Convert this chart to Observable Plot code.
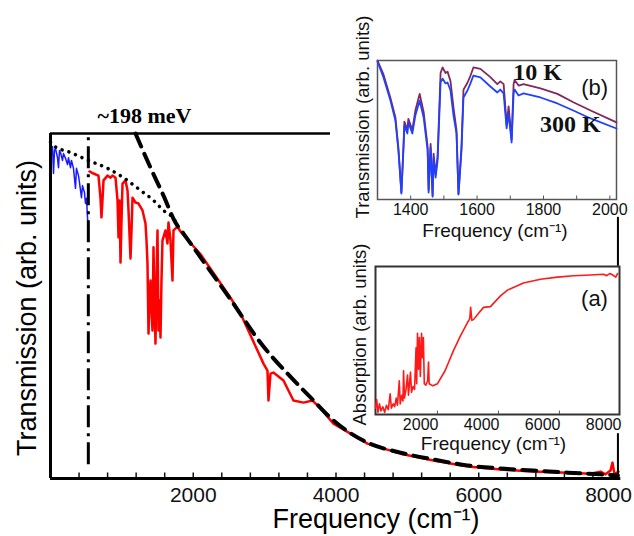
<!DOCTYPE html>
<html><head><meta charset="utf-8">
<script src="https://cdn.jsdelivr.net/npm/d3@7"></script>
<script src="https://cdn.jsdelivr.net/npm/@observablehq/plot@0.6"></script>
<style>
body{margin:0;background:#fff;}
#wrap{position:relative;width:634px;height:536px;overflow:hidden;background:#fff;}
#wrap svg{position:absolute;}
</style></head><body><div id="wrap"></div>
<script>
// ---------- main panel data: [frequency cm^-1, transmission] ----------
const mainBlue = [[28,0.962],[42,0.884],[56,0.951],[70,0.957],[98,0.930],[112,0.901],[126,0.951],[140,0.945],[168,0.922],[182,0.942],[210,0.928],[238,0.910],[252,0.930],[280,0.901],[294,0.922],[322,0.899],[350,0.841],[364,0.899],[392,0.878],[406,0.858],[434,0.814],[448,0.849],[476,0.829],[490,0.797],[504,0.812],[525,0.733]];
const mainRed = [[546,0.890],[602,0.884],[672,0.878],[700,0.814],[714,0.757],[728,0.806],[743,0.864],[799,0.878],[841,0.872],[869,0.878],[911,0.872],[939,0.806],[953,0.699],[967,0.806],[981,0.626],[995,0.748],[1009,0.855],[1051,0.864],[1079,0.835],[1093,0.777],[1121,0.638],[1135,0.719],[1149,0.814],[1191,0.800],[1233,0.797],[1289,0.777],[1331,0.739],[1345,0.690],[1359,0.623],[1373,0.420],[1387,0.516],[1401,0.574],[1415,0.487],[1429,0.429],[1443,0.670],[1457,0.516],[1471,0.391],[1485,0.574],[1499,0.719],[1513,0.429],[1527,0.516],[1541,0.409],[1555,0.574],[1569,0.690],[1611,0.719],[1639,0.681],[1653,0.742],[1681,0.690],[1695,0.632],[1709,0.574],[1723,0.719],[1779,0.730],[1821,0.716],[2102,0.650],[2522,0.524],[2662,0.478],[2900,0.371],[2984,0.333],[3040,0.313],[3054,0.226],[3082,0.304],[3124,0.307],[3264,0.284],[3404,0.226],[3545,0.220],[3671,0.226],[3783,0.203],[3965,0.159],[4441,0.101],[4904,0.072],[5366,0.052],[5842,0.035],[6305,0.026],[6767,0.020],[7243,0.017],[7565,0.014],[7706,0.020],[7776,0.012],[7846,0.023],[7874,0.046],[7902,0.012],[7958,0.020]];
const mainDashed = [[1191,1.0],[1401,0.901],[1583,0.820],[1751,0.742],[1863,0.710],[2102,0.641],[2522,0.519],[2970,0.386],[3320,0.304],[3643,0.235],[3965,0.168],[4441,0.104],[4904,0.075],[5366,0.055],[5842,0.038],[6305,0.029],[6767,0.023],[7243,0.017],[7706,0.012],[7950,0.009]];
const mainDotted = [[0,0.975],[42,0.965],[280,0.945],[532,0.922],[799,0.899],[1023,0.872],[1261,0.835],[1443,0.806],[1583,0.777],[1709,0.757],[1779,0.736]];
const cutoffFreq = [530];
const mainTickLabels = [2000, 4000, 6000];
const mainLastTick = [8000];
const mainMinorTicks = [400,800,1200,1600,2000,2400,2800,3200,3600,4000,4400,4800,5200,5600,6000,6400,6800,7200,7600];
const gapLabel = "~198 meV";

// ---------- inset (b): transmission 1300-2000 cm^-1 ----------
const insetBFreq = [1300,1318,1339,1354,1363,1372,1378,1381,1390,1393,1405,1414,1427,1439,1451,1454,1460,1466,1469,1475,1481,1490,1496,1505,1511,1520,1529,1538,1544,1553,1559,1571,1580,1589,1610,1640,1661,1670,1680,1689,1695,1704,1710,1713,1725,1740,1791,1842,1890,1942,2020];
const insetB300K = [0.993,0.878,0.712,0.568,0.353,0.043,0.353,0.532,0.475,0.554,0.475,0.604,0.712,0.590,0.353,0.050,0.374,0.020,0.302,0.158,0.280,0.842,0.870,0.835,0.842,0.784,0.604,0.475,0.036,0.353,0.734,0.784,0.835,0.892,0.878,0.813,0.770,0.791,0.763,0.511,0.619,0.410,0.763,0.791,0.748,0.763,0.734,0.691,0.640,0.583,0.511];
const insetB10K = [1.0,0.90,0.73,0.59,0.37,0.05,0.37,0.56,0.50,0.58,0.50,0.64,0.76,0.63,0.38,0.07,0.40,0.03,0.33,0.18,0.31,0.91,0.95,0.91,0.92,0.85,0.66,0.50,0.04,0.38,0.79,0.84,0.89,0.95,0.94,0.88,0.83,0.85,0.83,0.54,0.67,0.43,0.83,0.86,0.82,0.83,0.80,0.76,0.70,0.64,0.555];
const insetBTicks = [1400,1600,1800,2000];
const insetBMinor = [1400,1500,1600,1700,1800,1900,2000];

// ---------- inset (a): absorption ----------
const absorption = [[520,0.03],[560,0.09],[600,0.0],[650,0.06],[700,0.01],[760,0.04],[820,0.0],[880,0.05],[940,0.02],[1000,0.13],[1040,0.03],[1100,0.06],[1150,0.04],[1200,0.10],[1240,0.05],[1300,0.22],[1330,0.06],[1380,0.12],[1420,0.08],[1440,0.29],[1470,0.10],[1520,0.16],[1570,0.26],[1600,0.12],[1668,0.28],[1700,0.14],[1750,0.18],[1800,0.16],[1850,0.45],[1870,0.20],[1897,0.55],[1930,0.30],[1960,0.52],[1990,0.25],[2030,0.55],[2061,0.38],[2090,0.52],[2120,0.20],[2170,0.19],[2230,0.22],[2258,0.35],[2280,0.20],[2400,0.185],[2553,0.20],[2800,0.29],[3077,0.43],[3300,0.53],[3536,0.625],[3610,0.65],[3640,0.73],[3680,0.64],[3733,0.645],[3900,0.69],[4061,0.73],[4290,0.735],[4618,0.81],[4848,0.85],[5372,0.90],[5930,0.925],[6487,0.94],[7012,0.95],[7570,0.955],[8000,0.96],[8100,0.95],[8200,0.965],[8300,0.955],[8400,0.94],[8454,0.965]];
const insetATicks = [2000,4000,6000,8000];
const insetAMinor = [2550,4550,6550];

const SANS = '"Liberation Sans", Arial, Helvetica, sans-serif';
const SERIF = '"Liberation Serif", "Times New Roman", serif';
const fx = d => d[0], fy = d => d[1];
const wrap = document.getElementById("wrap");
function place(svg, left, top) { svg.style.left = left + "px"; svg.style.top = top + "px"; wrap.appendChild(svg); }

// ---------- main panel ----------
const main = Plot.plot({
  width: 634, height: 536,
  marginLeft: 50, marginRight: 13, marginTop: 133, marginBottom: 58,
  x: {domain: [0, 8000]}, y: {domain: [0, 1]},
  style: {background: "transparent", fontFamily: SANS, overflow: "visible"},
  marks: [
    Plot.axisX({ticks: mainTickLabels, tickSize: 0, tickPadding: 9, fontSize: 21, tickFormat: d => String(d), label: null, color: "#111"}),
    Plot.axisX({ticks: mainLastTick, tickSize: 0, tickPadding: 9, fontSize: 21, tickFormat: d => String(d), label: null, color: "#111", dx: -13}),
    Plot.axisY({ticks: [], label: null}),
    Plot.ruleX(mainMinorTicks, {y1: 0, y2: 0.016, stroke: "#111", strokeWidth: 1.5}),
    Plot.line(mainRed, {x: fx, y: fy, stroke: "#ff0000", strokeWidth: 2.5}),
    Plot.line(mainBlue, {x: fx, y: fy, stroke: "#1a1aff", strokeWidth: 1.5}),
    Plot.line(mainDashed, {x: fx, y: fy, stroke: "#000", strokeWidth: 4, strokeDasharray: "14,8", curve: "monotone-x"}),
    Plot.line(mainDotted, {x: fx, y: fy, stroke: "#000", strokeWidth: 3.5, strokeDasharray: "0.1,7", strokeLinecap: "round", curve: "monotone-x"}),
    Plot.ruleX(cutoffFreq, {y1: 0.04, y2: 1, stroke: "#000", strokeWidth: 3, strokeDasharray: "22,6,3,6"}),
    Plot.ruleX([0], {y1: 0, y2: 1, stroke: "#000", strokeWidth: 3}),
    Plot.ruleY([0], {x1: 0, x2: 7990, stroke: "#000", strokeWidth: 3}),
    Plot.ruleY([1], {x1: 0, x2: 3923, stroke: "#000", strokeWidth: 2.5}),
    Plot.ruleX([7950], {y1: 0, y2: 0.13, stroke: "#000", strokeWidth: 2}),
    Plot.ruleX([7950], {y1: 0.615, y2: 0.757, stroke: "#000", strokeWidth: 2}),
    Plot.text([gapLabel], {x: 1317, y: 1.052, text: d => d, fontFamily: SERIF, fontWeight: "bold", fontSize: 22, fill: "#000"}),
    Plot.text(["Transmission (arb. units)"], {frameAnchor: "left", textAnchor: "middle", rotate: -90, dx: -23, dy: 2, lineAnchor: "middle", fontSize: 27, fill: "#000"}),
    Plot.text(["Frequency (cm\u207B\u00B9)"], {frameAnchor: "bottom", textAnchor: "middle", dx: 40, dy: 41, lineAnchor: "middle", fontSize: 27, fill: "#000"})
  ]
});
place(main, 0, 0);

// ---------- inset (b) ----------
const bRows = insetBFreq.map((f, i) => ({f, t300: insetB300K[i], t10: insetB10K[i]}));
const insetB = Plot.plot({
  width: 299, height: 245,
  marginLeft: 42, marginRight: 18, marginTop: 60, marginBottom: 46,
  x: {domain: [1300, 2020]}, y: {domain: [0, 1]},
  style: {background: "transparent", fontFamily: SANS, overflow: "visible"},
  marks: [
    Plot.frame({fill: "#fff", stroke: "#555", strokeWidth: 1.5}),
    Plot.axisX({ticks: insetBTicks, tickSize: 0, tickPadding: 4, fontSize: 16, tickFormat: d => String(d), label: null, color: "#111"}),
    Plot.axisY({ticks: [], label: null}),
    Plot.ruleX(insetBMinor, {y1: 0, y2: 0.025, stroke: "#555", strokeWidth: 1}),
    Plot.line(bRows, {x: "f", y: "t10", stroke: "#82285c", strokeWidth: 1.8}),
    Plot.line(bRows, {x: "f", y: "t300", stroke: "#2040ff", strokeWidth: 1.8}),
    Plot.text(["10 K"], {x: 1782, y: 0.914, text: d => d, fontFamily: SERIF, fontWeight: "bold", fontSize: 24, fill: "#111"}),
    Plot.text(["300 K"], {x: 1881, y: 0.54, text: d => d, fontFamily: SERIF, fontWeight: "bold", fontSize: 24, fill: "#111"}),
    Plot.text(["(b)"], {x: 1954, y: 0.80, text: d => d, fontSize: 22, fill: "#111"}),
    Plot.text(["Transmission (arb. units)"], {frameAnchor: "left", textAnchor: "middle", rotate: -90, dx: -14, dy: -13, lineAnchor: "middle", fontSize: 18.5, fill: "#111"}),
    Plot.text(["Frequency (cm\u207B\u00B9)"], {frameAnchor: "bottom", textAnchor: "middle", dx: -2, dy: 31, lineAnchor: "middle", fontSize: 19, fill: "#111"})
  ]
});
place(insetB, 335, 0);

// ---------- inset (a) ----------
const insetA = Plot.plot({
  width: 299, height: 200,
  marginLeft: 40, marginRight: 15, marginTop: 11, marginBottom: 41,
  x: {domain: [520, 8520]}, y: {domain: [-0.014, 1.014]},
  style: {background: "transparent", fontFamily: SANS, overflow: "visible"},
  marks: [
    Plot.frame({fill: "#fff", stroke: "#333", strokeWidth: 2}),
    Plot.axisX({ticks: insetATicks, tickSize: 0, tickPadding: 4, fontSize: 16, tickFormat: d => String(d), label: null, color: "#111"}),
    Plot.axisY({ticks: [], label: null}),
    Plot.ruleX(insetAMinor, {y1: -0.014, y2: 0.01, stroke: "#555", strokeWidth: 1}),
    Plot.line(absorption, {x: fx, y: fy, stroke: "#ff1a1a", strokeWidth: 1.6}),
    Plot.text(["(a)"], {x: 7700, y: 0.79, text: d => d, fontSize: 22, fill: "#111"}),
    Plot.text(["Absorption (arb. units)"], {frameAnchor: "left", textAnchor: "middle", rotate: -90, dx: -15, dy: -6, lineAnchor: "middle", fontSize: 18.5, fill: "#111"}),
    Plot.text(["Frequency (cm\u207B\u00B9)"], {frameAnchor: "bottom", textAnchor: "middle", dx: -4, dy: 29, lineAnchor: "middle", fontSize: 19, fill: "#111"})
  ]
});
place(insetA, 335, 255);
</script></body></html>
